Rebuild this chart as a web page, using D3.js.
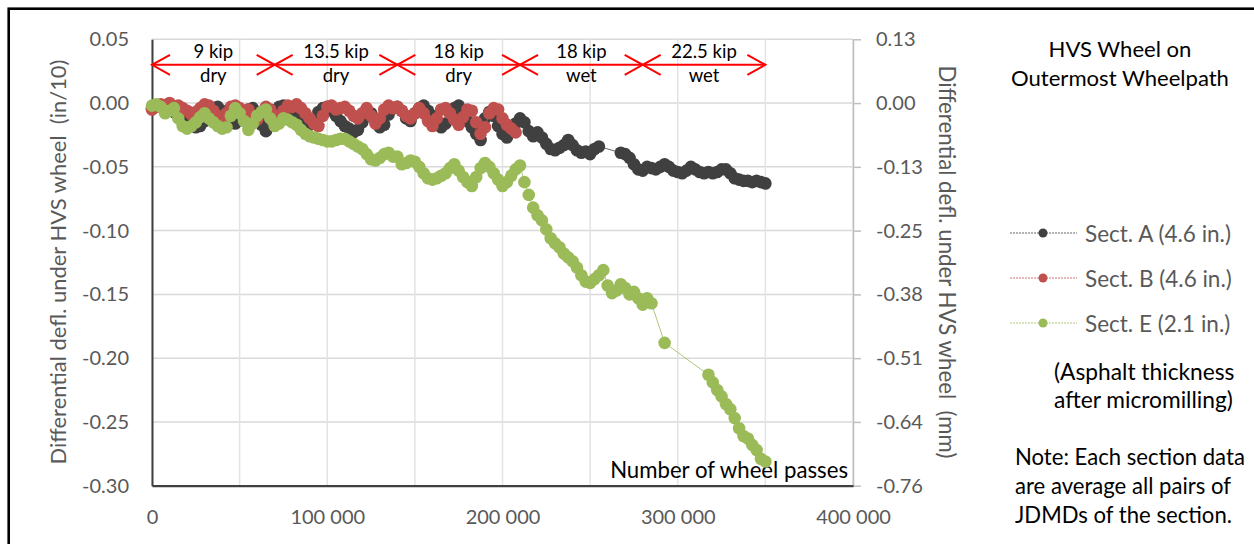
<!DOCTYPE html>
<html>
<head>
<meta charset="utf-8">
<script src="https://cdn.jsdelivr.net/npm/d3@7"></script>
<style>
  body { margin: 0; background: #fff; }
  svg text { font-family: Lato, "Open Sans", sans-serif; }
</style>
</head>
<body>
<div id="chart"></div>
<script>
// Number of wheel passes (thousands)
var passes = [
  0, 2.5, 5, 7.5, 10, 12.5, 15, 17.5, 20, 22.5,
  25, 27.5, 30, 32.5, 35, 37.5, 40, 42.5, 45, 47.5,
  50, 52.5, 55, 57.5, 60, 62.5, 65, 67.5, 70, 72.5,
  75, 77.5, 80, 82.5, 85, 87.5, 90, 92.5, 95, 97.5,
  100, 102.5, 105, 107.5, 110, 112.5, 115, 117.5, 120, 122.5,
  125, 127.5, 130, 132.5, 135, 137.5, 140, 142.5, 145, 147.5,
  150, 152.5, 155, 157.5, 160, 162.5, 165, 167.5, 170, 172.5,
  175, 177.5, 180, 182.5, 185, 187.5, 190, 192.5, 195, 197.5,
  200, 202.5, 205, 207.5, 210, 212.5, 215, 217.5, 220, 222.5,
  225, 227.5, 230, 232.5, 235, 237.5, 240, 242.5, 245, 247.5,
  250, 252.5, 255, 257.5, 260, 262.5, 265, 267.5, 270, 272.5,
  275, 277.5, 280, 282.5, 285, 287.5, 290, 292.5, 295, 297.5,
  300, 302.5, 305, 307.5, 310, 312.5, 315, 317.5, 320, 322.5,
  325, 327.5, 330, 332.5, 335, 337.5, 340, 342.5, 345, 347.5,
  350
];

// Differential deflection (in/10), null = no reading
var sectA = [
  -0.004, -0.002, -0.003, -0.005, -0.004, -0.007, -0.010, -0.012, -0.011, -0.015,
  -0.019, -0.018, -0.014, -0.008, -0.004, -0.003, -0.006, -0.010, -0.013, -0.016,
  -0.012, -0.008, -0.005, -0.004, -0.009, -0.017, -0.022, -0.012, -0.006, -0.003,
  -0.002, -0.004, -0.006, -0.008, -0.011, -0.014, -0.017, -0.013, -0.007, -0.004,
  -0.003, -0.006, -0.010, -0.014, -0.018, -0.020, -0.023, -0.021, -0.015, -0.010,
  -0.008, -0.014, -0.019, -0.017, -0.009, -0.004, -0.003, -0.006, -0.012, -0.014,
  -0.008, -0.004, -0.002, -0.006, -0.010, -0.015, -0.019, -0.016, -0.008, -0.004,
  -0.002, -0.008, -0.014, -0.019, -0.024, -0.029, -0.012, -0.007, -0.010, -0.018,
  -0.024, -0.027, -0.022, -0.016, -0.012, -0.015, -0.022, -0.026, -0.023, -0.027,
  -0.032, -0.036, -0.037, -0.035, -0.033, -0.029, -0.033, -0.037, -0.039, -0.038,
  -0.040, -0.036, -0.034, null, null, null, null, -0.039, -0.040, -0.043,
  -0.048, -0.052, -0.053, -0.050, -0.051, -0.052, -0.050, -0.048, -0.050, -0.053,
  -0.054, -0.055, -0.053, -0.050, -0.052, -0.054, -0.055, -0.054, -0.055, -0.054,
  -0.052, -0.052, -0.055, -0.059, -0.060, -0.061, -0.061, -0.062, -0.061, -0.062,
  -0.063
];

var sectB = [
  -0.005, -0.003, -0.001, -0.002, 0.000, -0.003, -0.002, -0.004, -0.006, -0.009,
  -0.007, -0.004, -0.001, -0.002, -0.006, -0.010, -0.012, -0.008, -0.003, -0.002,
  -0.004, -0.007, -0.005, -0.010, -0.013, -0.008, -0.003, -0.005, -0.010, -0.012,
  -0.006, -0.002, -0.003, -0.001, -0.004, -0.008, -0.012, -0.016, -0.018, -0.010,
  -0.003, -0.002, -0.005, -0.004, -0.003, -0.006, -0.010, -0.012, -0.008, -0.004,
  -0.010, -0.016, -0.012, -0.005, -0.002, -0.004, -0.003, -0.006, -0.010, -0.012,
  -0.008, -0.004, -0.008, -0.014, -0.018, -0.012, -0.005, -0.004, -0.008, -0.013,
  -0.017, -0.011, -0.005, -0.006, -0.015, -0.024, -0.019, -0.008, -0.004, -0.005,
  -0.012, -0.017, -0.020, -0.023
];

var sectE = [
  -0.002, -0.001, -0.003, -0.008, -0.006, -0.004, -0.012, -0.018, -0.020, -0.018,
  -0.015, -0.011, -0.008, -0.012, -0.015, -0.018, -0.020, -0.019, -0.010, -0.004,
  -0.008, -0.014, -0.021, -0.016, -0.010, -0.007, -0.005, -0.012, -0.018, -0.016,
  -0.012, -0.013, -0.015, -0.017, -0.021, -0.024, -0.026, -0.027, -0.028, -0.029,
  -0.030, -0.030, -0.029, -0.028, -0.028, -0.030, -0.032, -0.034, -0.036, -0.040,
  -0.044, -0.045, -0.043, -0.040, -0.039, -0.042, -0.042, -0.048, -0.047, -0.045,
  -0.046, -0.050, -0.055, -0.059, -0.060, -0.059, -0.057, -0.055, -0.051, -0.048,
  -0.053, -0.058, -0.062, -0.065, -0.058, -0.051, -0.047, -0.050, -0.055, -0.060,
  -0.065, -0.062, -0.057, -0.052, -0.049, -0.062, -0.072, -0.082, -0.088, -0.092,
  -0.099, -0.106, -0.110, -0.113, -0.118, -0.121, -0.124, -0.129, -0.135, -0.140,
  -0.141, -0.138, -0.135, -0.131, -0.143, -0.149, -0.147, -0.142, -0.145, -0.150,
  -0.148, -0.153, -0.158, -0.153, -0.157, null, null, -0.188, null, null,
  null, null, null, null, null, null, null, -0.213, -0.219, -0.225,
  -0.230, -0.236, -0.240, -0.247, -0.255, -0.261, -0.263, -0.268, -0.272, -0.279,
  -0.281
];

var seriesNames = ["Sect. A (4.6 in.)", "Sect. B (4.6 in.)", "Sect. E (2.1 in.)"];
var seriesColors = ["#404040", "#c0504d", "#9bbb59"];

// axis ticks and labels
var xTicks = [0, 100000, 200000, 300000, 400000];
var xTickLabels = ["0", "100 000", "200 000", "300 000", "400 000"];
var xGrid = [0, 50000, 100000, 150000, 200000, 250000, 300000, 350000, 400000];
var yTicks = [0.05, 0, -0.05, -0.10, -0.15, -0.20, -0.25, -0.30];
var yTickLabels = ["0.05", "0.00", "-0.05", "-0.10", "-0.15", "-0.20", "-0.25", "-0.30"];
var y2TickLabels = ["0.13", "0.00", "-0.13", "-0.25", "-0.38", "-0.51", "-0.64", "-0.76"];

// load stages shown with red arrows
var stageStart = [0, 70000, 140000, 210000, 280000];
var stageEnd = [70000, 140000, 210000, 280000, 350000];
var stageLoad = ["9 kip", "13.5 kip", "18 kip", "18 kip", "22.5 kip"];
var stageCond = ["dry", "dry", "dry", "wet", "wet"];
var stageLevel = 0.03;

var width = 1254, height = 544;
var plot = { left: 152, right: 853, top: 39.3, bottom: 485.7 };

var svg = d3.select("#chart")
    .append("svg")
    .attr("width", width)
    .attr("height", height);

// outer frame (only top and left edges show)
svg.append("rect")
    .attr("x", 8.7).attr("y", 8.7)
    .attr("width", width + 20).attr("height", height + 20)
    .attr("fill", "none")
    .attr("stroke", "#000")
    .attr("stroke-width", 2.6);

var x = d3.scaleLinear().domain([0, 400000]).range([plot.left, plot.right]);
var y = d3.scaleLinear().domain([-0.30, 0.05]).range([plot.bottom, plot.top]);
// mm axis: in/10 * 2.54
var y2 = d3.scaleLinear().domain([-0.30 * 2.54, 0.05 * 2.54]).range([plot.bottom, plot.top]);

// gridlines
svg.append("g").selectAll("line")
    .data(yTicks)
    .enter().append("line")
    .attr("x1", plot.left).attr("x2", plot.right)
    .attr("y1", function (d) { return y(d); })
    .attr("y2", function (d) { return y(d); })
    .attr("stroke", "#d9d9d9")
    .attr("stroke-width", 1.5);

svg.append("g").selectAll("line")
    .data(xGrid)
    .enter().append("line")
    .attr("x1", function (d) { return x(d); })
    .attr("x2", function (d) { return x(d); })
    .attr("y1", plot.top).attr("y2", plot.bottom)
    .attr("stroke", "#e3e3e3")
    .attr("stroke-width", 1.5);

var tickFont = "20px";

// right (mm) axis
var rightAxis = svg.append("g")
    .attr("transform", "translate(" + plot.right + ",0)")
    .call(d3.axisRight(y2)
        .tickValues(yTicks.map(function (d) { return d * 2.54; }))
        .tickSize(8).tickSizeOuter(0).tickPadding(15)
        .tickFormat(function (d, i) { return y2TickLabels[i]; }));
rightAxis.select(".domain").attr("stroke", "#bfbfbf").attr("stroke-width", 1.5);
rightAxis.selectAll(".tick line").attr("stroke", "#bfbfbf").attr("stroke-width", 1.5);
rightAxis.selectAll(".tick text").attr("fill", "#595959").style("font-size", tickFont).style("font-family", "Lato");

// left axis
var leftAxis = svg.append("g")
    .attr("transform", "translate(" + plot.left + ",0)")
    .call(d3.axisLeft(y)
        .tickValues(yTicks)
        .tickSize(0).tickPadding(23)
        .tickFormat(function (d, i) { return yTickLabels[i]; }));
leftAxis.select(".domain").attr("stroke", "#404040").attr("stroke-width", 2);
leftAxis.selectAll(".tick text").attr("fill", "#595959").style("font-size", tickFont).style("font-family", "Lato");

// bottom axis
var bottomAxis = svg.append("g")
    .attr("transform", "translate(0," + plot.bottom + ")")
    .call(d3.axisBottom(x)
        .tickValues(xTicks)
        .tickSize(0).tickPadding(24)
        .tickFormat(function (d, i) { return xTickLabels[i]; }));
bottomAxis.select(".domain").attr("stroke", "#404040").attr("stroke-width", 2.2);
bottomAxis.selectAll(".tick text").attr("fill", "#595959").style("font-size", tickFont).style("font-family", "Lato");

// scale a text's font so its length matches the picture
function fitWidth(sel, w) {
  var node = sel.node();
  var fs = parseFloat(sel.style("font-size"));
  var k = w / node.getComputedTextLength();
  sel.style("font-size", (fs * k) + "px");
  return fs * k;
}

// axis titles
var yTitle = svg.append("text")
    .attr("transform", "translate(66," + 262 + ") rotate(-90)")
    .attr("text-anchor", "middle")
    .style("white-space", "pre")
    .style("font-size", "20px")
    .attr("fill", "#595959")
    .text("Differential defl. under HVS wheel  (in/10)");
fitWidth(yTitle, 405);

var y2Title = svg.append("text")
    .attr("transform", "translate(939," + 262 + ") rotate(90)")
    .attr("text-anchor", "middle")
    .style("white-space", "pre")
    .style("font-size", "20px")
    .attr("fill", "#595959")
    .text("Differential defl. under HVS wheel  (mm)");
fitWidth(y2Title, 393);

var xTitle = svg.append("text")
    .attr("x", plot.right - 5)
    .attr("y", plot.bottom - 8)
    .attr("text-anchor", "end")
    .style("font-size", "20px")
    .attr("fill", "#000")
    .text("Number of wheel passes");
fitWidth(xTitle, 238);

// data series: A, then B, then E on top
var line = d3.line()
    .x(function (d) { return x(d.x); })
    .y(function (d) { return y(d.y); });

[sectA, sectB, sectE].forEach(function (vals, k) {
  var pts = [];
  vals.forEach(function (v, i) {
    if (v !== null) pts.push({ x: passes[i] * 1000, y: v });
  });
  var g = svg.append("g");
  g.append("path")
      .datum(pts)
      .attr("d", line)
      .attr("fill", "none")
      .attr("stroke", seriesColors[k])
      .attr("stroke-width", 0.8);
  g.selectAll("circle")
      .data(pts)
      .enter().append("circle")
      .attr("cx", function (d) { return x(d.x); })
      .attr("cy", function (d) { return y(d.y); })
      .attr("r", 6.3)
      .attr("fill", seriesColors[k]);
});

// load stage arrows
var stages = svg.append("g");
var ay = y(stageLevel);
stageStart.forEach(function (s, i) {
  var x0 = x(s), x1 = x(stageEnd[i]);
  var g = stages.append("g")
      .attr("stroke", "#ff0000")
      .attr("stroke-width", 2)
      .attr("fill", "none");
  g.append("line").attr("x1", x0).attr("x2", x1).attr("y1", ay).attr("y2", ay);
  g.append("polyline").attr("points", [[x0 + 18, ay - 10], [x0, ay], [x0 + 18, ay + 10]].join(" "));
  g.append("polyline").attr("points", [[x1 - 18, ay - 10], [x1, ay], [x1 - 18, ay + 10]].join(" "));
  stages.append("text")
      .attr("x", (x0 + x1) / 2).attr("y", ay - 7)
      .attr("text-anchor", "middle")
      .style("font-size", "18.5px")
      .attr("fill", "#000")
      .text(stageLoad[i]);
  stages.append("text")
      .attr("x", (x0 + x1) / 2).attr("y", ay + 17)
      .attr("text-anchor", "middle")
      .style("font-size", "18.5px")
      .attr("fill", "#000")
      .text(stageCond[i]);
});

// legend title
var t1 = svg.append("text")
    .attr("x", 1120).attr("y", 57)
    .attr("text-anchor", "middle")
    .style("font-size", "20px")
    .attr("fill", "#000")
    .text("HVS Wheel on");
var t2 = svg.append("text")
    .attr("x", 1120).attr("y", 86)
    .attr("text-anchor", "middle")
    .style("font-size", "20px")
    .attr("fill", "#000")
    .text("Outermost Wheelpath");
var tfs = fitWidth(t2, 218);
t1.style("font-size", tfs + "px");

// legend entries
var legend = svg.append("g");
var legendY = [233, 278, 323];
seriesNames.forEach(function (name, i) {
  var ly = legendY[i];
  legend.append("line")
      .attr("x1", 1010).attr("x2", 1077)
      .attr("y1", ly).attr("y2", ly)
      .attr("stroke", seriesColors[i])
      .attr("stroke-width", 0.8)
      .attr("stroke-dasharray", "2,1");
  legend.append("circle")
      .attr("cx", 1043).attr("cy", ly)
      .attr("r", 4.5)
      .attr("fill", seriesColors[i]);
  var lt = legend.append("text")
      .attr("x", 1085).attr("y", ly + 8.5)
      .style("font-size", "20px")
      .attr("fill", "#595959")
      .text(name);
  if (i === 0) fitWidth(lt, 146);
  else lt.style("font-size", legend.select("text").style("font-size"));
});

// notes
var a1 = svg.append("text")
    .attr("x", 1054).attr("y", 380)
    .style("font-size", "20px")
    .attr("fill", "#000")
    .text("(Asphalt thickness");
var a2 = svg.append("text")
    .attr("x", 1054).attr("y", 408)
    .style("font-size", "20px")
    .attr("fill", "#000")
    .text("after micromilling)");
var afs = fitWidth(a2, 179);
a1.style("font-size", afs + "px");

var noteLines = ["Note: Each section data", "are average all pairs of", "JDMDs of the section."];
var notes = svg.append("g");
noteLines.forEach(function (s, i) {
  notes.append("text")
      .attr("x", 1015).attr("y", 465 + i * 29)
      .style("font-size", "20px")
      .attr("fill", "#000")
      .text(s);
});
var nfs = fitWidth(notes.select("text"), 230);
notes.selectAll("text").style("font-size", nfs + "px");
</script>
</body>
</html>
